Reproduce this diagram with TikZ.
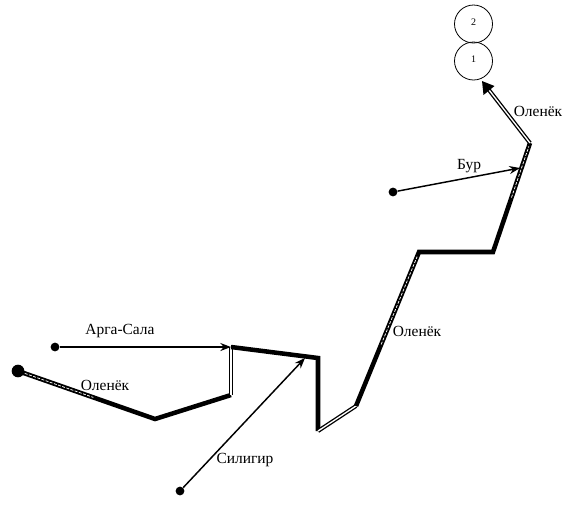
\documentclass[tikz,border=0pt]{standalone}
\usepackage{fontspec}
\setmainfont{Liberation Serif}
\usetikzlibrary{arrows.meta,calc}
\tikzset{
 dotA/.style={circle,fill=black,draw=none,inner sep=0pt,minimum size=6.6pt},
 dotB/.style={circle,fill=black,draw=none,inner sep=0pt,minimum size=9.5pt},
 lake/.style={circle,draw=black,line width=0.6pt,inner sep=0pt,minimum size=28.5pt,font=\fontsize{7.5}{8}\selectfont},
 lbl/.style={inner sep=0pt,font=\fontsize{11.6}{13}\selectfont},
 trib/.style={line width=1.1pt,-{Stealth[length=8pt,width=6pt]}},
 solidriver/.style={line width=3.4pt,line join=miter,line cap=butt},
 dbl/.style={draw=black,double=white,line width=1pt,double distance=1pt,line cap=butt},
 core/.style={draw=white,line width=0.55pt,dash pattern=on 2.2pt off 1.1pt},
}
\begin{document}
\begin{tikzpicture}[x=0.75pt,y=-0.75pt]
\useasboundingbox (0,0) rectangle (573,504);
\fill[white] (0,0) rectangle (573,504);
\node[dotB] (a) at (18,371) {};
\coordinate (b) at (155,419);
\coordinate (c) at (231,395);
\coordinate (d) at (231,347);
\coordinate (e) at (318,358);
\coordinate (f) at (318,431);
\coordinate (g) at (356,406);
\coordinate (h) at (419,252);
\coordinate (i) at (493,252);
\coordinate (j) at (530,143);
\coordinate (k) at (482,81);
\node[lake] (n1) at (473.5,61) {\raisebox{2.5pt}{1}};
\node[lake] (n2) at (473.5,24) {\raisebox{2.5pt}{2}};
\node[dotA] (t1) at (55,347) {};
\node[dotA] (t2) at (180,491) {};
\node[dotA] (t3) at (393,192) {};
\coordinate (t1e) at (231,347);
\coordinate (t2e) at (305,358);
\coordinate (t3e) at (520,168);
% river
\draw[solidriver] (a.center) -- (b) -- (c);
\draw[core] ($(a)!0.05!(b)$) -- ($(a)!0.55!(b)$);
\draw[dbl] (c) -- (d);
\draw[solidriver] (d) -- (e) -- (f);
\draw[dbl] (f) -- (g);
\draw[solidriver] (g) -- (h) -- (i) -- (j);
\draw[core] ($(g)!0.4!(h)$) -- ($(g)!0.97!(h)$);
\draw[core] ($(i)!0.5!(j)$) -- ($(i)!0.97!(j)$);
\draw[dbl] (j) -- ($(j)!0.92!(k)$);
\fill (k) -- ++(1.5,14) -- ++(11,-9) -- cycle;
% tributaries
\draw[trib] (t1) -- (t1e);
\draw[trib] (t2) -- (t2e);
\draw[trib] (t3) -- (t3e);
% labels
\node[lbl] (l1) at (120,331) {Арга-Сала};
\node[lbl] (l2) at (105,385) {Оленёк};
\node[lbl] (l3) at (245,460) {Силигир};
\node[lbl] (l4) at (417,331) {Оленёк};
\node[lbl] (l5) at (469,166) {Бур};
\node[lbl] (l6) at (538,111) {Оленёк};
\end{tikzpicture}
\end{document}
